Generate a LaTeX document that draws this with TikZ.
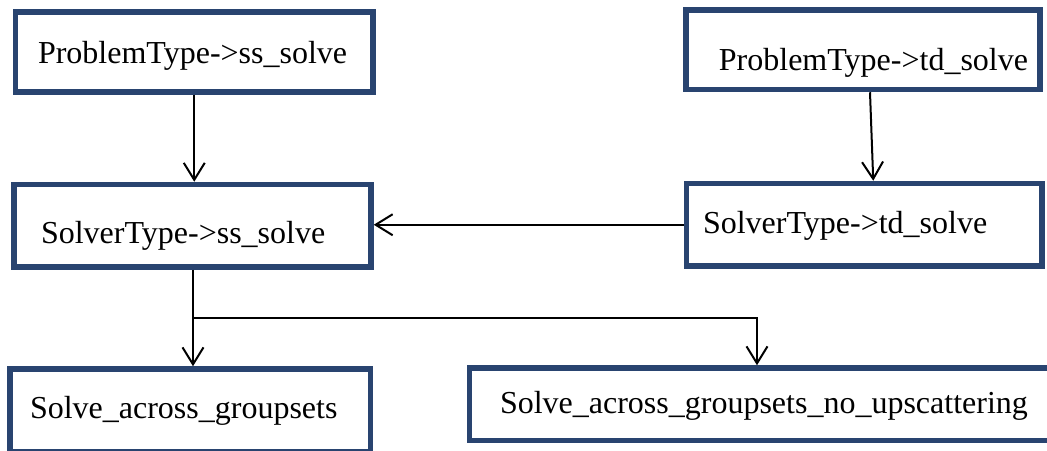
\documentclass[tikz,border=0pt]{standalone}
\usepackage{fontspec}
\setmainfont{Liberation Serif}
\usepackage{xcolor}
\usetikzlibrary{arrows.meta,positioning}
\definecolor{boxblue}{HTML}{294470}

\begin{document}
\begin{tikzpicture}[
  x=1pt, y=-1pt,
  typebox/.style={
    draw=boxblue,
    line width=5.5pt,
    fill=white,
    align=left,
    inner ysep=0pt,
    text depth=7pt,
    text height=22pt,
    font=\fontsize{32}{38}\selectfont
  },
  flow/.style={-{Straight Barb[length=17pt,width=21pt]}, line width=2pt}
]
\useasboundingbox (0,0) rectangle (1047,450);
\clip (0,0) rectangle (1047,450);

\node[typebox, text width=312.5pt, inner xsep=22.5pt, minimum height=80pt, text height=29pt]
  (probss) at (194.25,52) {\mbox{ProblemType->ss\_solve}};
\node[typebox, align=right, text width=330pt, inner xsep=12pt, minimum height=79.5pt, text height=48pt]
  (probtd) at (863,49.75) {\mbox{ProblemType->td\_solve}};
\node[typebox, text width=303pt, inner xsep=27pt, minimum height=82.5pt, text height=42pt]
  (solvss) at (192.5,225.75) {\mbox{SolverType->ss\_solve}};
\node[typebox, text width=322.5pt, inner xsep=16.5pt, minimum height=82.5pt, text height=25pt]
  (solvtd) at (864.25,224.75) {\mbox{SolverType->td\_solve}};
\node[typebox, text width=320.5pt, inner xsep=20pt, minimum height=83pt]
  (groupsets) at (190.25,410.5) {\mbox{Solve\_across\_groupsets}};
\node[typebox, text width=629pt, inner xsep=30.5pt, minimum height=72.5pt, text height=26pt]
  (noupscat) at (814.5,404.25) {\mbox{Solve\_across\_groupsets\_no\_upscattering}};

\coordinate (split) at (193,318);

\draw[flow] (probss.south) -- (probss.south |- solvss.north);
\draw[flow] ([xshift=7pt]probtd.south) -- ([xshift=9pt]solvtd.north);
\draw[flow] (solvtd.west) -- (solvss.east |- solvtd.west);
\draw[flow] (split |- solvss.south) -- (split |- groupsets.north);
\draw[flow] (split) -| ([xshift=-57.5pt]noupscat.north);
\end{tikzpicture}
\end{document}
